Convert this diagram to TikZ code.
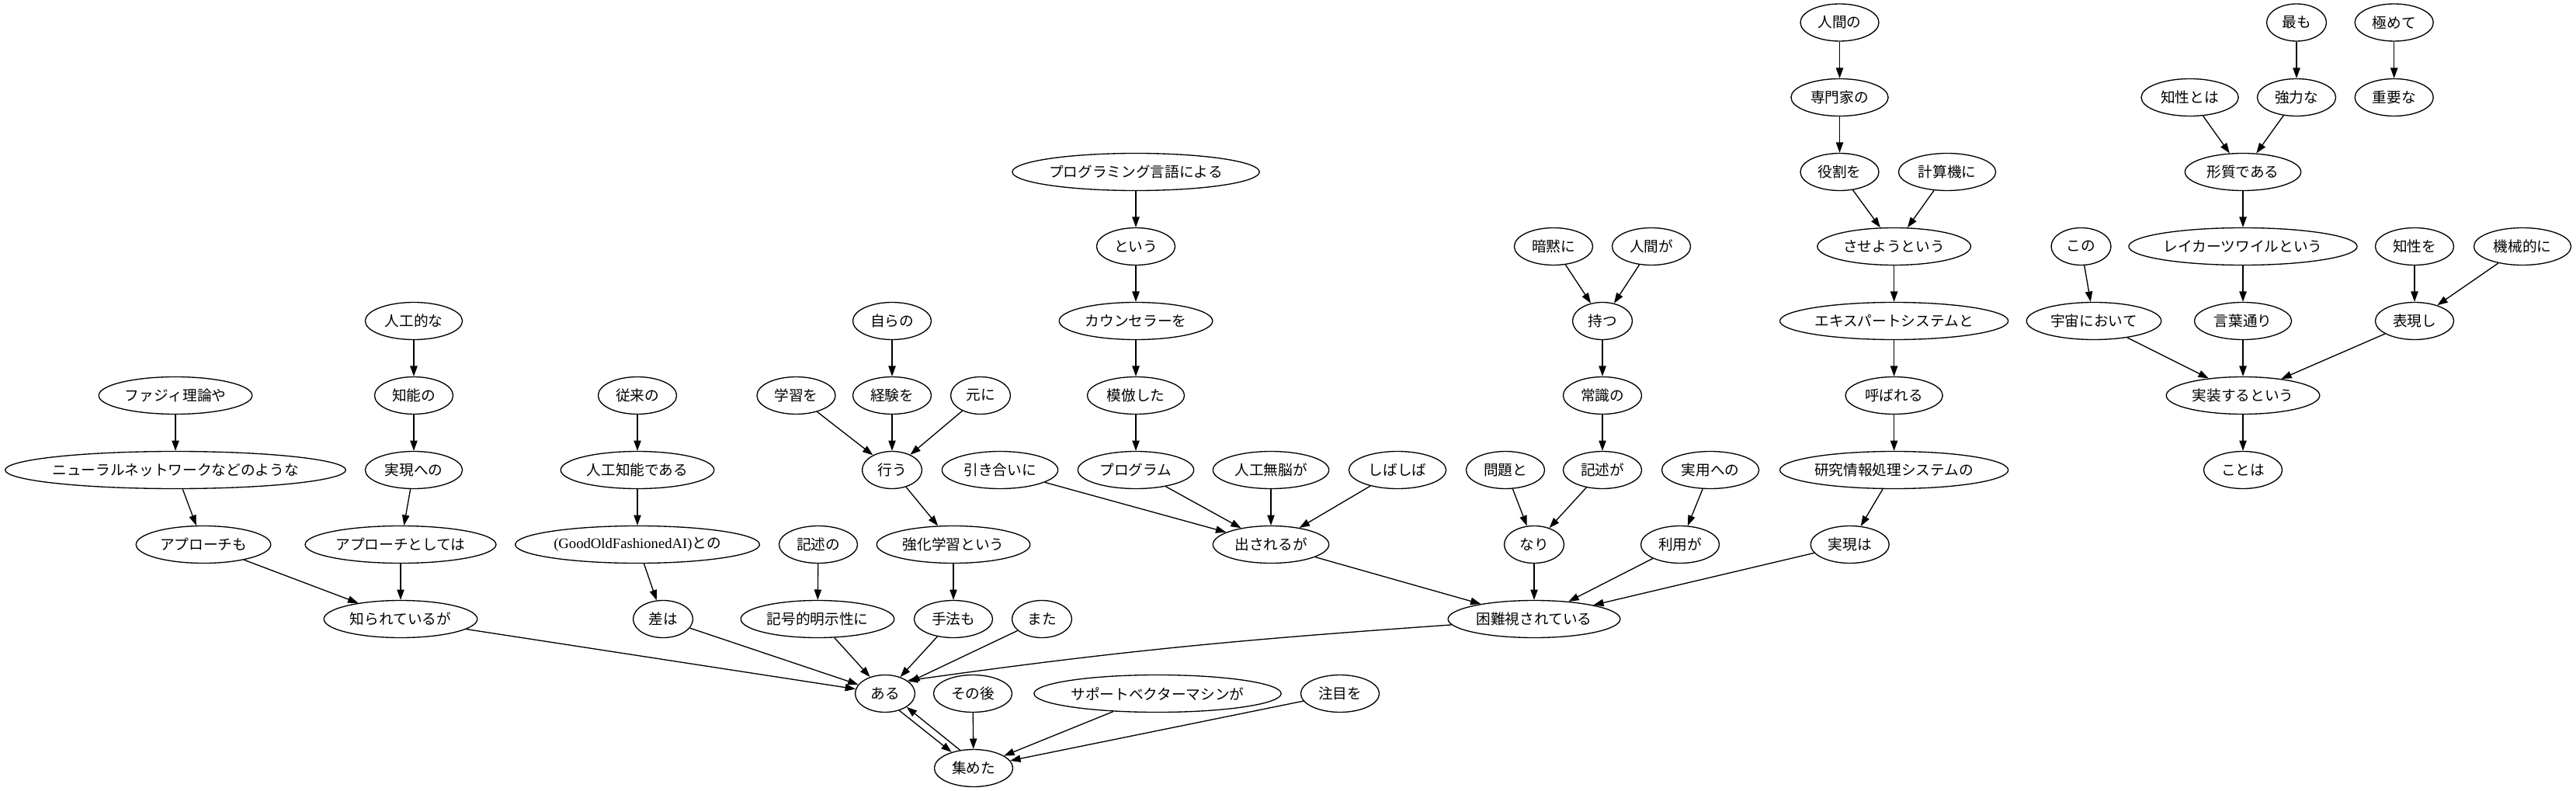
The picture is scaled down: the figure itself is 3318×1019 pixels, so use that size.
\documentclass[tikz,border=0pt]{standalone}
\usepackage{fontspec}
\setmainfont{Liberation Serif}
\newfontfamily\cjk{Noto Sans CJK JP}
\newfontfamily\latn{Liberation Serif}
\usetikzlibrary{arrows.meta,shapes.geometric}
\tikzset{
  nd/.style={ellipse, draw, line width=1pt, inner sep=0pt, minimum height=36pt,
    font=\cjk\fontsize{14pt}{16pt}\selectfont},
  arr/.style={-{Triangle[length=10pt,width=7pt]}, line width=1pt},
}
\newcommand\JN[5]{\node[nd, minimum width={(18.1*#4+21.5)*1pt}] (#1) at (#2,#3) {#5};}
\begin{document}
\begin{tikzpicture}[x=0.75pt,y=-0.75pt]
\useasboundingbox (0,0) rectangle (3318,1019);
% row 0
\JN{ningenno}{2369.5}{29}{3}{人間の}
\JN{mottomo}{2958}{29}{2}{最も}
\JN{kiwamete}{3083.7}{29}{3}{極めて}
% row 1
\JN{senmonka}{2369.5}{125.5}{4}{専門家の}
\JN{chiseitoha}{2820.6}{125.5}{4}{知性とは}
\JN{kyouryoku}{2958}{125.5}{3}{強力な}
\JN{juuyou}{3083.7}{125.5}{3}{重要な}
% row 2
\JN{proglang}{1463}{221.5}{12}{プログラミング言語による}
\JN{yakuwari}{2369.5}{221.5}{3}{役割を}
\JN{keisanki}{2508}{221.5}{4}{計算機に}
\JN{keishitsu}{2889}{221.5}{5}{形質である}
% row 3
\JN{toiu}{1463}{317.5}{3}{という}
\JN{anmoku}{2001}{317.5}{3}{暗黙に}
\JN{ningenga}{2127}{317.5}{3}{人間が}
\JN{saseyou}{2439.6}{317.5}{7}{させようという}
\JN{kono}{2680.5}{317.5}{2}{この}
\JN{kurzweil}{2889}{317.5}{11}{レイカーツワイルという}
\JN{chiseiwo}{3110}{317.5}{3}{知性を}
\JN{kikaiteki}{3249}{317.5}{4}{機械的に}
% row 4
\JN{jinkouteki}{533}{413.5}{4}{人工的な}
\JN{mizukara}{1149}{413.5}{3}{自らの}
\JN{counselor}{1463}{413.5}{7}{カウンセラーを}
\JN{motsu}{2064}{413.5}{2}{持つ}
\JN{expert}{2439.6}{413.5}{11}{エキスパートシステムと}
\JN{uchuu}{2697}{413.5}{6}{宇宙において}
\JN{kotoba}{2889}{413.5}{4}{言葉通り}
\JN{hyougen}{3110}{413.5}{3}{表現し}
% row 5
\JN{fuzzy}{226}{509.5}{7}{ファジィ理論や}
\JN{chinou}{533}{509.5}{3}{知能の}
\JN{juurai}{821}{509.5}{3}{従来の}
\JN{gakushuu}{1025.5}{509.5}{3}{学習を}
\JN{keiken}{1149}{509.5}{3}{経験を}
\JN{motoni}{1263}{509.5}{2}{元に}
\JN{mohou}{1463}{509.5}{4}{模倣した}
\JN{joushiki}{2064}{509.5}{3}{常識の}
\JN{yobareru}{2439.6}{509.5}{4}{呼ばれる}
\JN{jissou}{2889}{509.5}{7}{実装するという}
% row 6
\node[nd, minimum width=329pt, inner xsep=-3pt] (neural) at (226,605.5) {ニューラルネットワークなどのような};
\JN{jitsugen}{533}{605.5}{4}{実現への}
\JN{jinkouchinou}{821}{605.5}{7}{人工知能である}
\JN{okonau}{1149}{605.5}{2}{行う}
\JN{hikiai}{1288}{605.5}{5}{引き合いに}
\JN{program}{1463}{605.5}{5}{プログラム}
\JN{munou}{1637}{605.5}{5}{人工無脳が}
\JN{shibashiba}{1800}{605.5}{4}{しばしば}
\JN{mondai}{1939}{605.5}{3}{問題と}
\JN{kijutsuga}{2064}{605.5}{3}{記述が}
\JN{jitsuyou}{2203}{605.5}{4}{実用への}
\JN{kenkyuu}{2439.6}{605.5}{11}{研究情報処理システムの}
\JN{kotoha}{2889}{605.5}{3}{ことは}
% row 7
\JN{approachmo}{262}{701.5}{6}{アプローチも}
\JN{approachtoshite}{516}{701.5}{9}{アプローチとしては}
\node[nd, minimum width=236pt] (gofai) at (821,701.5) {{\latn (GoodOldFashionedAI)}との};
\JN{kijutsuno}{1054}{701.5}{3}{記述の}
\JN{kyouka}{1228}{701.5}{7}{強化学習という}
\JN{dasareru}{1637}{701.5}{5}{出されるが}
\JN{nari}{1976}{701.5}{2}{なり}
\JN{riyou}{2164}{701.5}{3}{利用が}
\JN{jitsugenha}{2382.7}{701.5}{3}{実現は}
% row 8
\JN{shirareteiru}{516}{797.5}{7}{知られているが}
\JN{saha}{854}{797.5}{2}{差は}
\JN{kigouteki}{1053}{797.5}{7}{記号的明示性に}
\JN{shuhou}{1228}{797.5}{3}{手法も}
\JN{mata}{1342}{797.5}{2}{また}
\JN{konnan}{1976}{797.5}{8}{困難視されている}
% row 9
\JN{aru}{1140}{893.5}{2}{ある}
\JN{sonogo}{1253}{893.5}{3}{その後}
\JN{svm}{1491}{893.5}{12}{サポートベクターマシンが}
\JN{chuumoku}{1726}{893.5}{3}{注目を}
% row 10
\JN{atsumeta}{1254}{989.5}{3}{集めた}

% edges
\draw[arr] (jinkouteki) -- (chinou);
\draw[arr] (chinou) -- (jitsugen);
\draw[arr] (jitsugen) -- (approachtoshite);
\draw[arr] (approachtoshite) -- (shirareteiru);
\draw[arr] (fuzzy) -- (neural);
\draw[arr] (neural) -- (approachmo);
\draw[arr] (approachmo) -- (shirareteiru);
\draw[arr] (shirareteiru) -- (aru);
\draw[arr] (juurai) -- (jinkouchinou);
\draw[arr] (jinkouchinou) -- (gofai);
\draw[arr] (gofai) -- (saha);
\draw[arr] (saha) -- (aru);
\draw[arr] (kijutsuno) -- (kigouteki);
\draw[arr] (kigouteki) -- (aru);
\draw[arr] (mizukara) -- (keiken);
\draw[arr] (gakushuu) -- (okonau);
\draw[arr] (keiken) -- (okonau);
\draw[arr] (motoni) -- (okonau);
\draw[arr] (okonau) -- (kyouka);
\draw[arr] (kyouka) -- (shuhou);
\draw[arr] (shuhou) -- (aru);
\draw[arr] (mata) -- (aru);
\draw[arr] (proglang) -- (toiu);
\draw[arr] (toiu) -- (counselor);
\draw[arr] (counselor) -- (mohou);
\draw[arr] (mohou) -- (program);
\draw[arr] (program) -- (dasareru);
\draw[arr] (hikiai) -- (dasareru);
\draw[arr] (munou) -- (dasareru);
\draw[arr] (shibashiba) -- (dasareru);
\draw[arr] (dasareru) -- (konnan);
\draw[arr] (anmoku) -- (motsu);
\draw[arr] (ningenga) -- (motsu);
\draw[arr] (motsu) -- (joushiki);
\draw[arr] (joushiki) -- (kijutsuga);
\draw[arr] (kijutsuga) -- (nari);
\draw[arr] (mondai) -- (nari);
\draw[arr] (nari) -- (konnan);
\draw[arr] (jitsuyou) -- (riyou);
\draw[arr] (riyou) -- (konnan);
\draw[arr] (ningenno) -- (senmonka);
\draw[arr] (senmonka) -- (yakuwari);
\draw[arr] (yakuwari) -- (saseyou);
\draw[arr] (keisanki) -- (saseyou);
\draw[arr] (saseyou) -- (expert);
\draw[arr] (expert) -- (yobareru);
\draw[arr] (yobareru) -- (kenkyuu);
\draw[arr] (kenkyuu) -- (jitsugenha);
\draw[arr] (jitsugenha) -- (konnan);
\draw[arr] (konnan.184) to[out=184,in=8] (aru.30);
\draw[arr] (aru.-50) -- (atsumeta.144);
\draw[arr] (atsumeta.127) -- (aru.-32);
\draw[arr] (sonogo) -- (atsumeta);
\draw[arr] (svm) -- (atsumeta);
\draw[arr] (chuumoku) -- (atsumeta);
\draw[arr] (mottomo) -- (kyouryoku);
\draw[arr] (chiseitoha) -- (keishitsu);
\draw[arr] (kyouryoku) -- (keishitsu);
\draw[arr] (keishitsu) -- (kurzweil);
\draw[arr] (kurzweil) -- (kotoba);
\draw[arr] (kotoba) -- (jissou);
\draw[arr] (jissou) -- (kotoha);
\draw[arr] (kono) -- (uchuu);
\draw[arr] (uchuu) -- (jissou);
\draw[arr] (chiseiwo) -- (hyougen);
\draw[arr] (kikaiteki) -- (hyougen);
\draw[arr] (hyougen) -- (jissou);
\draw[arr] (kiwamete) -- (juuyou);
\end{tikzpicture}
\end{document}
